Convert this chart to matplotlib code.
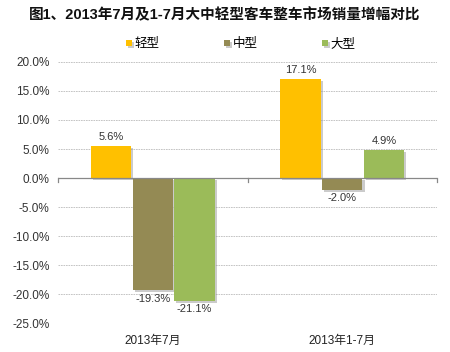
import matplotlib.pyplot as plt
import matplotlib.patheffects as pe
import numpy as np

plt.rcParams['font.family'] = ['Liberation Sans', 'Noto Sans CJK SC', 'DejaVu Sans']

categories = ["2013年7月", "2013年1-7月"]
series_names = ["轻型", "中型", "大型"]
light = [5.6, 17.1]
medium = [-19.3, -2.0]
heavy = [-21.1, 4.9]
yticks = [20, 15, 10, 5, 0, -5, -10, -15, -20, -25]

colors = ["#FFC000", "#948A54", "#9BBB59"]
values = [light, medium, heavy]

fig = plt.figure(figsize=(4.5, 3.52), dpi=100)
ax = fig.add_axes([0.129, 0.082, 0.842, 0.742])

x = np.arange(len(categories))
width = 0.22
offsets = [-width, 0, width]
shadow = [pe.SimplePatchShadow(offset=(1.5, -1.5), shadow_rgbFace='#999999', alpha=0.5), pe.Normal()]

for name, vals, off, c in zip(series_names, values, offsets, colors):
    bars = ax.bar(x + off, vals, width * 0.97, color=c, label=name, zorder=3)
    for b, v in zip(bars, vals):
        b.set_path_effects(shadow)
        if v >= 0:
            ax.text(b.get_x() + b.get_width() / 2, v + 0.6, f"{v:.1f}%", ha='center', va='bottom',
                    fontsize=8, color='#333333')
        else:
            ax.text(b.get_x() + b.get_width() / 2, v - 0.6, f"{v:.1f}%", ha='center', va='top',
                    fontsize=8, color='#333333')

ax.set_xlim(-0.5, 1.5)
ax.set_ylim(-25, 20)
ax.set_yticks(yticks)
ax.set_yticklabels([f"{t:.1f}%" for t in yticks], fontsize=8.5, color='#333333')
ax.tick_params(axis='y', length=0, pad=6)
ax.grid(axis='y', color='#bbbbbb', linestyle=(0, (2, 1)), linewidth=0.6, zorder=0)
for s in ax.spines.values():
    s.set_visible(False)

ax.axhline(0, color='#888888', linewidth=0.9, zorder=4)
for xb in [-0.5, 0.5, 1.5]:
    ax.plot([xb, xb], [0, -0.6], color='#888888', linewidth=0.9, zorder=4, clip_on=False)

ax.set_xticks([])
for xi, cat in zip(x, categories):
    ax.text(xi, -27.0, cat, ha='center', va='top', fontsize=8.5, color='#222222')

fig.text(0.5, 0.957, "图1、2013年7月及1-7月大中轻型客车整车市场销量增幅对比", ha='center', va='center',
         fontsize=10.5, fontweight='bold', color='#111111')

leg = fig.legend(loc='center', bbox_to_anchor=(0.535, 0.874), ncol=3, frameon=False, fontsize=9,
                 handlelength=0.45, handleheight=0.45, handletextpad=0.2, columnspacing=5.2)

fig.savefig("out.png", dpi=100)
